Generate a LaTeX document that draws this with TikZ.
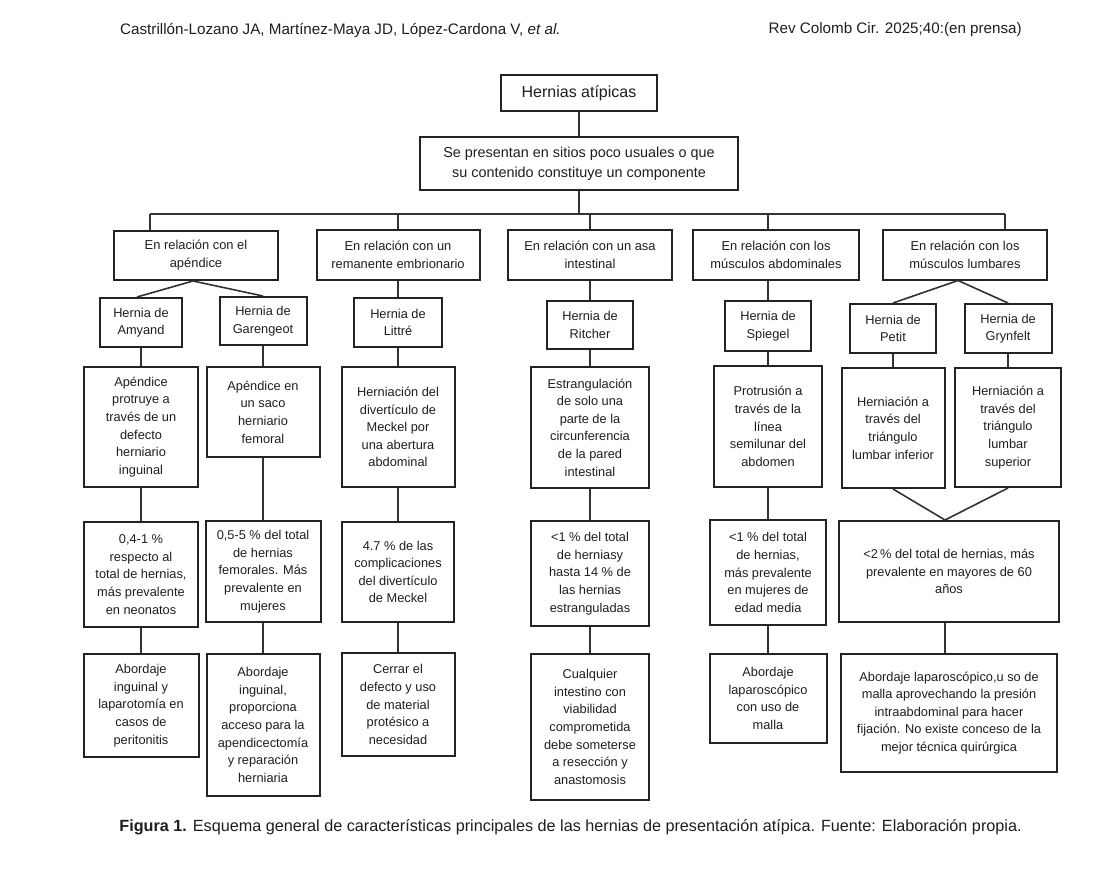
\documentclass[tikz,border=0pt]{standalone}
\usepackage{fontspec}
\setmainfont{Liberation Sans}
\usepackage{xcolor}
\usetikzlibrary{positioning, calc}
\definecolor{boxline}{RGB}{35, 35, 35}
\definecolor{linkline}{RGB}{50, 50, 50}
\definecolor{bodytext}{RGB}{30, 30, 30}
\tikzset{
    headbox/.style={rectangle, draw=boxline, line width=2pt, text=bodytext, align=center, inner sep=2pt},
    catbox/.style={headbox, font=\fontsize{12.9}{18}\selectfont},
    infobox/.style={headbox, font=\fontsize{12.8}{17.6}\selectfont},
    link/.style={draw=linkline, line width=1.6pt},
    pagetext/.style={inner sep=0pt, text=bodytext, font=\fontsize{15.2}{18}\selectfont}
}

\begin{document}
\begin{tikzpicture}[x=1pt, y=-1pt]
    \useasboundingbox (0,0) rectangle (1110,875);

    % running head
    \node[pagetext, anchor=west] (authors) at (120,30) {Castrillón-Lozano JA, Martínez-Maya JD, López-Cardona V, \textit{et al.}};
    \node[pagetext, anchor=east] (journal) at (1022,30) {Rev Colomb Cir. 2025;40:(en prensa)};

    % top of the tree
    \node[headbox, minimum width=156pt, minimum height=36pt, font=\fontsize{16}{19}\selectfont] (root) at (579,93) {Hernias atípicas};
    \node[headbox, minimum width=318pt, minimum height=53pt, font=\fontsize{14.4}{20}\selectfont] (def) at (579,163.5) {Se presentan en sitios poco usuales o que\\su contenido constituye un componente};

    % groups
    \node[catbox, minimum width=164pt, minimum height=49pt] (apendice) at (196,255.5) {En relación con el\\apéndice};
    \node[catbox, minimum width=163pt, minimum height=50pt] (embrion) at (398,255) {En relación con un\\remanente embrionario};
    \node[catbox, minimum width=164pt, minimum height=50pt] (asa) at (590,255) {En relación con un asa\\intestinal};
    \node[catbox, minimum width=166pt, minimum height=50pt] (abdominal) at (776,255) {En relación con los\\músculos abdominales};
    \node[catbox, minimum width=164pt, minimum height=50pt] (lumbar) at (965,254.5) {En relación con los\\músculos lumbares};

    % hernia names
    \node[infobox, minimum width=82pt, minimum height=49pt] (amyand) at (141,322.5) {Hernia de\\Amyand};
    \node[infobox, minimum width=87pt, minimum height=48pt] (garengeot) at (263,321) {Hernia de\\Garengeot};
    \node[infobox, minimum width=88pt, minimum height=49pt] (littre) at (398,322.5) {Hernia de\\Littré};
    \node[infobox, minimum width=86pt, minimum height=48pt] (ritcher) at (590,325) {Hernia de\\Ritcher};
    \node[infobox, minimum width=86pt, minimum height=50pt] (spiegel) at (768,326) {Hernia de\\Spiegel};
    \node[infobox, minimum width=86pt, minimum height=49pt] (petit) at (893,328.5) {Hernia de\\Petit};
    \node[infobox, minimum width=87pt, minimum height=49pt] (grynfelt) at (1008,328.5) {Hernia de\\Grynfelt};

    % definitions
    \node[infobox, minimum width=114pt, minimum height=120pt] (amyandDef) at (141,427) {Apéndice\\protruye a\\través de un\\defecto\\herniario\\inguinal};
    \node[infobox, minimum width=113pt, minimum height=90pt] (garengeotDef) at (263,412) {Apéndice en\\un saco\\herniario\\femoral};
    \node[infobox, minimum width=113pt, minimum height=120pt] (littreDef) at (398,427) {Herniación del\\divertículo de\\Meckel por\\una abertura\\abdominal};
    \node[infobox, minimum width=118pt, minimum height=121pt] (ritcherDef) at (590,427.5) {Estrangulación\\de solo una\\parte de la\\circunferencia\\de la pared\\intestinal};
    \node[infobox, minimum width=108pt, minimum height=121pt] (spiegelDef) at (768,426.5) {Protrusión a\\través de la\\línea\\semilunar del\\abdomen};
    \node[infobox, minimum width=103pt, minimum height=120pt] (petitDef) at (893,428) {Herniación a\\través del\\triángulo\\lumbar inferior};
    \node[infobox, minimum width=106pt, minimum height=119pt] (grynfeltDef) at (1008,427.5) {Herniación a\\través del\\triángulo\\lumbar\\superior};

    % frequency
    \node[infobox, minimum width=114pt, minimum height=105pt] (amyandFreq) at (141,574.5) {0,4-1 \%\\respecto al\\total de hernias,\\más prevalente\\en neonatos};
    \node[infobox, minimum width=115pt, minimum height=101pt] (garengeotFreq) at (263,571.5) {0,5-5 \% del total\\de hernias\\femorales. Más\\prevalente en\\mujeres};
    \node[infobox, minimum width=112pt, minimum height=100pt] (littreFreq) at (398,572) {4.7 \% de las\\complicaciones\\del divertículo\\de Meckel};
    \node[infobox, minimum width=118pt, minimum height=105pt] (ritcherFreq) at (590,573.5) {<1 \% del total\\de herniasy\\hasta 14 \% de\\las hernias\\estranguladas};
    \node[infobox, minimum width=116pt, minimum height=105pt] (spiegelFreq) at (768,572.5) {<1 \% del total\\de hernias,\\más prevalente\\en mujeres de\\edad media};
    \node[infobox, minimum width=220pt, minimum height=101pt] (lumbarFreq) at (949,571.5) {<2\,\% del total de hernias, más\\prevalente en mayores de 60\\años};

    % management
    \node[infobox, minimum width=115pt, minimum height=103pt] (amyandTx) at (141,705.5) {Abordaje\\inguinal y\\laparotomía en\\casos de\\peritonitis};
    \node[infobox, minimum width=113pt, minimum height=142pt] (garengeotTx) at (263,725) {Abordaje\\inguinal,\\proporciona\\acceso para la\\apendicectomía\\y reparación\\herniaria};
    \node[infobox, minimum width=113pt, minimum height=103pt] (littreTx) at (398,704.5) {Cerrar el\\defecto y uso\\de material\\protésico a\\necesidad};
    \node[infobox, minimum width=118pt, minimum height=146pt] (ritcherTx) at (590,727) {Cualquier\\intestino con\\viabilidad\\comprometida\\debe someterse\\a resección y\\anastomosis};
    \node[infobox, minimum width=117pt, minimum height=89pt] (spiegelTx) at (768,698.5) {Abordaje\\laparoscópico\\con uso de\\malla};
    \node[infobox, minimum width=216pt, minimum height=118pt] (lumbarTx) at (949,713) {Abordaje laparoscópico,u so de\\malla aprovechando la presión\\intraabdominal para hacer\\fijación. No existe conceso de la\\mejor técnica quirúrgica};

    % caption
    \node[pagetext, font=\fontsize{16.2}{19}\selectfont] (caption) at (570.5,827) {\textbf{Figura 1.} Esquema general de características principales de las hernias de presentación atípica. Fuente: Elaboración propia.};

    % Paths
    \coordinate (busL) at (150,214);
    \coordinate (busR) at (1005,214);
    \draw [link] (root) -- (def);
    \draw [link] (def) -- (def |- busL);
    \draw [link] (busL) -- (busR);
    \draw [link] (busL) -- (busL |- apendice.north);
    \draw [link] (embrion.north |- busL) -- (embrion.north);
    \draw [link] (asa.north |- busL) -- (asa.north);
    \draw [link] (spiegel.north |- busL) -- (spiegel.north |- abdominal.north);
    \draw [link] (busR) -- (busR |- lumbar.north);

    \draw [link] ([xshift=-3pt]apendice.south) -- ([xshift=-4pt]amyand.north);
    \draw [link] ([xshift=-3pt]apendice.south) -- (garengeot.north);
    \draw [link] (embrion) -- (littre);
    \draw [link] (asa) -- (ritcher);
    \draw [link] (spiegel.north |- abdominal.south) -- (spiegel.north);
    \draw [link] ([xshift=-7pt]lumbar.south) -- (petit.north);
    \draw [link] ([xshift=-7pt]lumbar.south) -- (grynfelt.north);

    \foreach \h in {amyand, garengeot, littre, ritcher, spiegel, petit, grynfelt}
        \draw [link] (\h) -- (\h Def);
    \foreach \h in {amyand, garengeot, littre, ritcher, spiegel}
        \draw [link] (\h Def) -- (\h Freq) (\h Freq) -- (\h Tx);
    \draw [link] (petitDef.south) -- ([xshift=-4pt]lumbarFreq.north);
    \draw [link] (grynfeltDef.south) -- ([xshift=-4pt]lumbarFreq.north);
    \draw [link] ([xshift=-4pt]lumbarFreq.south) -- ([xshift=-4pt]lumbarFreq.south |- lumbarTx.north);

\end{tikzpicture}
\end{document}
